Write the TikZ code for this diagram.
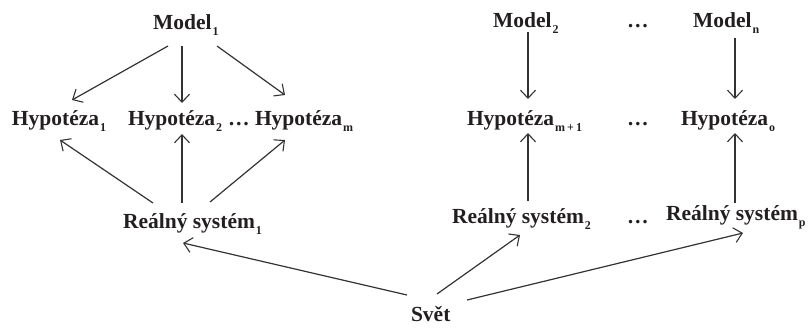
\documentclass[tikz,border=0pt]{standalone}
\usepackage{fontspec}
\setmainfont{Liberation Serif}
\usetikzlibrary{arrows.meta}
\definecolor{ink}{HTML}{231F20}
\definecolor{wire}{HTML}{333333}
% lowered small index after a label
\newcommand{\idx}[1]{\kern1pt\raisebox{-6pt}{\fontsize{12}{13}\selectfont #1}}
\tikzset{
  lbl/.style={anchor=base west, inner sep=0pt, outer sep=0pt, text=ink,
              font=\fontsize{21.5}{24}\selectfont\bfseries},
  link/.style={draw=wire, line width=1.2pt,
               -{Straight Barb[length=8pt,width=15pt,line width=1.1pt]}}
}
\begin{document}
\begin{tikzpicture}[x=1pt,y=-1pt]
\useasboundingbox (0,0) rectangle (808,327);

% top row: models
\node[lbl] (m1) at (153,29) {Model\idx{1}};
\node[lbl] (m2) at (493,27) {Model\idx{2}};
\node[lbl] (dtop) at (627,27) {…};
\node[lbl] (mn) at (693,27) {Model\idx{n}};

% middle row: hypotheses
\node[lbl] (h1) at (12,125) {Hypotéza\idx{1}};
\node[lbl] (h2) at (128,125) {Hypotéza\idx{2}};
\node[lbl] (dmidA) at (228,125) {…};
\node[lbl] (hm) at (255,125) {Hypotéza\idx{m}};
\node[lbl] (hmm) at (467,125) {Hypotéza\idx{m\,+\,1}};
\node[lbl] (dmidB) at (627,125) {…};
\node[lbl] (ho) at (681,125) {Hypotéza\idx{o}};

% lower row: real systems
\node[lbl] (rs1) at (123,228) {Reálný systém\idx{1}};
\node[lbl] (rs2) at (452,223) {Reálný systém\idx{2}};
\node[lbl] (dbot) at (627,223) {…};
\node[lbl] (rsp) at (666,220) {Reálný systém\idx{p}};

% world
\node[lbl] (svet) at (411,321) {Svět};

% models to hypotheses
\draw[link] ([shift={(15,17)}]m1.base west) -- ([shift={(60,-25)}]h1.base west);
\draw[link] ([shift={(29,17)}]m1.base west) -- ([shift={(54,-22)}]h2.base west);
\draw[link] ([shift={(64,17)}]m1.base west) -- ([shift={(30,-30)}]hm.base west);
\draw[link] ([shift={(35,5)}]m2.base west) -- ([shift={(61,-26)}]hmm.base west);
\draw[link] ([shift={(42,11)}]mn.base west) -- ([shift={(54,-26)}]ho.base west);

% real systems to hypotheses
\draw[link] ([shift={(30,-25)}]rs1.base west) -- ([shift={(48,15)}]h1.base west);
\draw[link] ([shift={(59,-25)}]rs1.base west) -- ([shift={(54,9)}]h2.base west);
\draw[link] ([shift={(87,-26)}]rs1.base west) -- ([shift={(30,15)}]hm.base west);
\draw[link] ([shift={(76,-22)}]rs2.base west) -- ([shift={(61,8)}]hmm.base west);
\draw[link] ([shift={(69,-17)}]rsp.base west) -- ([shift={(54,8)}]ho.base west);

% world to real systems
\draw[link] ([shift={(-4,-26)}]svet.base west) -- ([shift={(60,15)}]rs1.base west);
\draw[link] ([shift={(26,-27)}]svet.base west) -- ([shift={(68,12)}]rs2.base west);
\draw[link] ([shift={(56,-21)}]svet.base west) -- ([shift={(77,13)}]rsp.base west);
\end{tikzpicture}
\end{document}
